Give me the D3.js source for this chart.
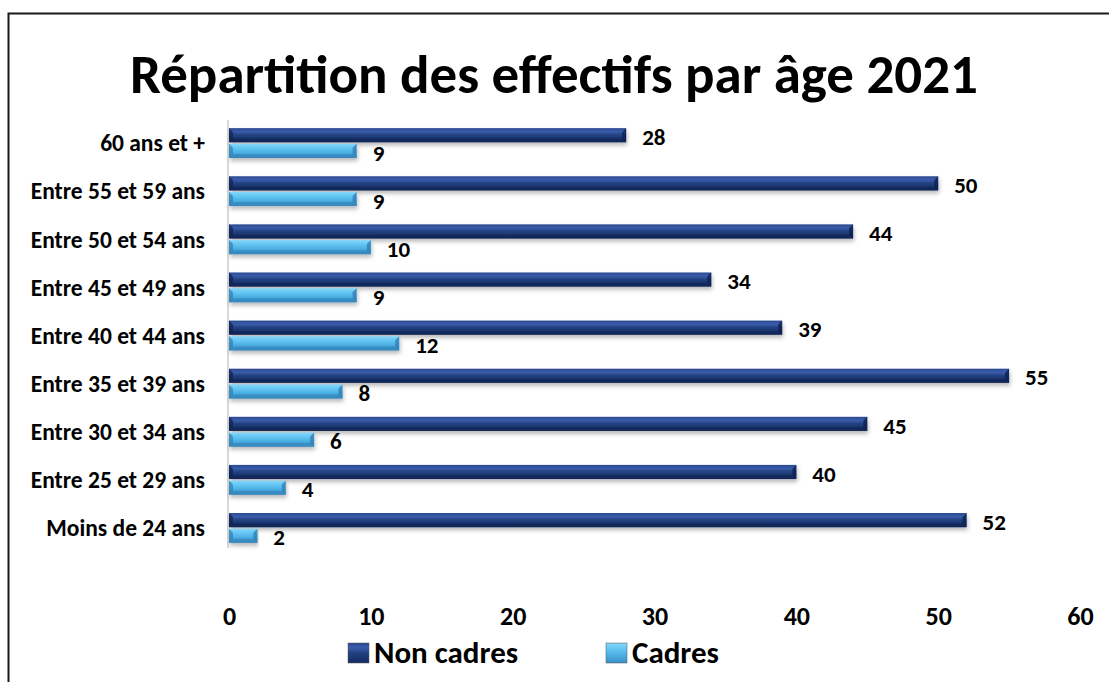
<!DOCTYPE html>
<html>
<head>
  <meta charset="utf-8">
  <script src="https://d3js.org/d3.v7.min.js"></script>
  <style>
    body { margin: 0; background: #fff; }
    text { font-family: Carlito, Lato, "Open Sans", sans-serif; font-weight: bold; fill: #000; }
  </style>
</head>
<body>
<div id="chart"></div>
<script>
  // categories, top to bottom
  const categories = ["60 ans et +", "Entre 55 et 59 ans", "Entre 50 et 54 ans", "Entre 45 et 49 ans",
    "Entre 40 et 44 ans", "Entre 35 et 39 ans", "Entre 30 et 34 ans", "Entre 25 et 29 ans", "Moins de 24 ans"];
  const nonCadres = [28, 50, 44, 34, 39, 55, 45, 40, 52];
  const cadres = [9, 9, 10, 9, 12, 8, 6, 4, 2];
  const xTicks = [0, 10, 20, 30, 40, 50, 60];
  const seriesNames = ["Non cadres", "Cadres"];

  const W = 1109, H = 682;
  const plotL = 229, plotR = 1080, plotT = 119, plotB = 552;

  const svg = d3.select("#chart").append("svg")
    .attr("width", W).attr("height", H);

  const defs = svg.append("defs");
  const grad = (id, stops) => {
    const g = defs.append("linearGradient").attr("id", id)
      .attr("x1", 0).attr("y1", 0).attr("x2", 0).attr("y2", 1);
    stops.forEach(s => g.append("stop").attr("offset", s[0]).attr("stop-color", s[1]));
  };
  grad("gDark", [[0, "#2a4890"], [0.25, "#3a5dab"], [0.5, "#21407f"], [1, "#152c63"]]);
  grad("gLight", [[0, "#86d6f8"], [0.3, "#64c6f3"], [0.6, "#4cb0e3"], [1, "#3a90c9"]]);
  const sh = defs.append("filter").attr("id", "shadow").attr("x", "-5%").attr("y", "-50%")
    .attr("width", "110%").attr("height", "250%");
  sh.append("feDropShadow").attr("dx", 1).attr("dy", 3).attr("stdDeviation", 2)
    .attr("flood-color", "#000").attr("flood-opacity", 0.28);

  // chart frame
  svg.append("rect").attr("x", 8.5).attr("y", 13.5).attr("width", 1120).attr("height", 720)
    .attr("fill", "none").attr("stroke", "#1a1a1a").attr("stroke-width", 2);

  svg.append("text").attr("x", 554).attr("y", 93).attr("text-anchor", "middle")
    .style("font-size", "55px").text("Répartition des effectifs par âge 2021");

  const x = d3.scaleLinear().domain([0, 60]).range([plotL, plotR]);
  const y = d3.scaleBand().domain(categories).range([plotT, plotB]).paddingInner(0.38).paddingOuter(0.19);
  const sub = d3.scaleBand().domain(seriesNames).range([0, y.bandwidth()]).paddingInner(0.1);

  // axes
  svg.append("line").attr("x1", plotL - 1).attr("x2", plotL - 1).attr("y1", plotT + 1).attr("y2", plotB - 4)
    .attr("stroke", "#d9d9d9").attr("stroke-width", 2);

  const xAxis = svg.append("g").attr("transform", `translate(0,${plotB})`)
    .call(d3.axisBottom(x).tickValues(xTicks).tickSize(0).tickPadding(55));
  xAxis.select(".domain").remove();
  xAxis.selectAll("text").style("font-size", "26px").style("font-family", null);

  const yAxis = svg.append("g").attr("transform", `translate(${plotL},0)`)
    .call(d3.axisLeft(y).tickSize(0).tickPadding(24));
  yAxis.select(".domain").remove();
  yAxis.selectAll("text").style("font-size", "23.5px").style("font-family", null).attr("dy", "0.35em");

  const rows = categories.map((c, i) => ({ c, vals: [nonCadres[i], cadres[i]] }));
  const bh = sub.bandwidth();

  const groups = svg.selectAll(".grp").data(rows).join("g")
    .attr("transform", d => `translate(0,${y(d.c)})`);

  seriesNames.forEach((s, k) => {
    const fillId = k === 0 ? "gDark" : "gLight";
    const edge = k === 0 ? "#0e214d" : "#2f7fb5";
    const g = groups.append("g");
    g.append("rect")
      .attr("x", x(0)).attr("y", sub(s))
      .attr("width", d => x(d.vals[k]) - x(0)).attr("height", bh)
      .attr("fill", `url(#${fillId})`).attr("filter", "url(#shadow)");
    // bevel facets
    g.append("path")
      .attr("d", d => {
        const x1 = x(d.vals[k]), y0 = sub(s), y1 = y0 + bh, b = 4;
        return `M${x1},${y0}L${x1},${y1}L${x1 - b},${y1 - b}L${x1 - b},${y0 + b}Z`;
      })
      .attr("fill", edge).attr("opacity", 0.8);
    g.append("path")
      .attr("d", d => {
        const x0 = x(0), x1 = x(d.vals[k]), y0 = sub(s), y1 = y0 + bh, b = 4;
        return `M${x0},${y1}L${x1},${y1}L${x1 - b},${y1 - b}L${x0 + b},${y1 - b}Z`;
      })
      .attr("fill", edge).attr("opacity", 0.55);
    g.append("path")
      .attr("d", d => {
        const x0 = x(0), y0 = sub(s), y1 = y0 + bh, b = 4;
        return `M${x0},${y0}L${x0 + b},${y0 + b}L${x0 + b},${y1 - b}L${x0},${y1}Z`;
      })
      .attr("fill", edge).attr("opacity", 0.7);
    g.append("text")
      .attr("x", d => x(d.vals[k]) + 16).attr("y", sub(s) + bh / 2)
      .attr("dy", "0.42em").style("font-size", "23px")
      .text(d => d.vals[k]);
  });

  // legend
  const legend = [
    { name: seriesNames[0], x: 348, fill: "url(#gDark)" },
    { name: seriesNames[1], x: 606, fill: "url(#gLight)" }
  ];
  const lg = svg.selectAll(".lg").data(legend).join("g")
    .attr("transform", d => `translate(${d.x},0)`);
  lg.append("rect").attr("x", 0).attr("y", 643).attr("width", 21).attr("height", 20)
    .attr("fill", d => d.fill).attr("stroke", "#555").attr("stroke-width", 0.5);
  lg.append("text").attr("x", 26).attr("y", 663).style("font-size", "31px").text(d => d.name);
</script>
</body>
</html>
